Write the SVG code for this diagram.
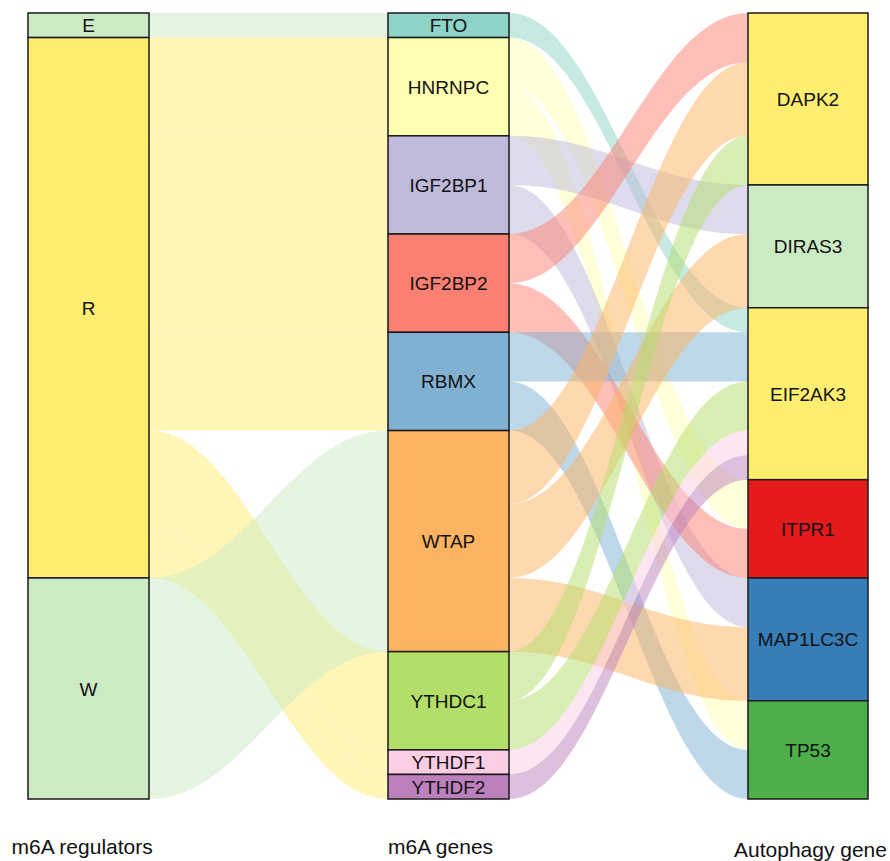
<svg xmlns="http://www.w3.org/2000/svg" width="890" height="861" viewBox="0 0 890 861">
<style>
.node{stroke:#1a1a1a;stroke-width:1.5}
.lbl{font-family:"Liberation Sans",Arial,sans-serif;font-size:19px;fill:#111;text-anchor:middle}
.axis{font-family:"Liberation Sans",Arial,sans-serif;font-size:21px;fill:#111}
.f{fill-opacity:0.5;stroke:none}
</style>
<rect width="890" height="861" fill="#ffffff"/>
<g id="connectors">
<path class="f" fill="#CCEBC5" d="M149,13 C244.6,13 292.4,13 388,13 L388,37.56 C292.4,37.56 244.6,37.56 149,37.56Z"/>
<path class="f" fill="#FFED6F" d="M149,37.56 L388,37.56 L388,135.81 L149,135.81Z"/>
<path class="f" fill="#FFED6F" d="M149,135.81 L388,135.81 L388,234.06 L149,234.06Z"/>
<path class="f" fill="#FFED6F" d="M149,234.06 L388,234.06 L388,332.31 L149,332.31Z"/>
<path class="f" fill="#FFED6F" d="M149,332.31 L388,332.31 L388,430.56 L149,430.56Z"/>
<path class="f" fill="#FFED6F" d="M149,430.56 C244.6,430.56 292.4,651.63 388,651.63 L388,749.88 C292.4,749.88 244.6,528.81 149,528.81Z"/>
<path class="f" fill="#FFED6F" d="M149,528.81 C244.6,528.81 292.4,749.88 388,749.88 L388,774.44 C292.4,774.44 244.6,553.38 149,553.38Z"/>
<path class="f" fill="#FFED6F" d="M149,553.38 C244.6,553.38 292.4,774.44 388,774.44 L388,799 C292.4,799 244.6,577.94 149,577.94Z"/>
<path class="f" fill="#CCEBC5" d="M149,577.94 C244.6,577.94 292.4,430.56 388,430.56 L388,651.63 C292.4,651.63 244.6,799 149,799Z"/>

<path class="f" fill="#8DD3C7" d="M509,13 C604.6,13 652.4,307.75 748,307.75 L748,332.31 C652.4,332.31 604.6,37.56 509,37.56Z"/>
<path class="f" fill="#FFFFB3" d="M509,37.56 C604.6,37.56 652.4,479.69 748,479.69 L748,528.81 C652.4,528.81 604.6,86.69 509,86.69Z"/>
<path class="f" fill="#FFFFB3" d="M509,86.69 C604.6,86.69 652.4,700.75 748,700.75 L748,749.88 C652.4,749.88 604.6,135.81 509,135.81Z"/>
<path class="f" fill="#BEBADA" d="M509,135.81 C604.6,135.81 652.4,184.94 748,184.94 L748,234.06 C652.4,234.06 604.6,184.94 509,184.94Z"/>
<path class="f" fill="#BEBADA" d="M509,184.94 C604.6,184.94 652.4,577.94 748,577.94 L748,627.06 C652.4,627.06 604.6,234.06 509,234.06Z"/>
<path class="f" fill="#FB8072" d="M509,234.06 C604.6,234.06 652.4,13 748,13 L748,62.13 C652.4,62.13 604.6,283.19 509,283.19Z"/>
<path class="f" fill="#FB8072" d="M509,283.19 C604.6,283.19 652.4,528.81 748,528.81 L748,577.94 C652.4,577.94 604.6,332.31 509,332.31Z"/>
<path class="f" fill="#80B1D3" d="M509,332.31 C604.6,332.31 652.4,332.31 748,332.31 L748,381.44 C652.4,381.44 604.6,381.44 509,381.44Z"/>
<path class="f" fill="#80B1D3" d="M509,381.44 C604.6,381.44 652.4,749.88 748,749.88 L748,799 C652.4,799 604.6,430.56 509,430.56Z"/>
<path class="f" fill="#FDB462" d="M509,430.56 C604.6,430.56 652.4,62.13 748,62.13 L748,135.81 C652.4,135.81 604.6,504.25 509,504.25Z"/>
<path class="f" fill="#FDB462" d="M509,504.25 C604.6,504.25 652.4,234.06 748,234.06 L748,307.75 C652.4,307.75 604.6,577.94 509,577.94Z"/>
<path class="f" fill="#FDB462" d="M509,577.94 C604.6,577.94 652.4,627.06 748,627.06 L748,700.75 C652.4,700.75 604.6,651.63 509,651.63Z"/>
<path class="f" fill="#B3DE69" d="M509,651.63 C604.6,651.63 652.4,135.81 748,135.81 L748,184.94 C652.4,184.94 604.6,700.75 509,700.75Z"/>
<path class="f" fill="#B3DE69" d="M509,700.75 C604.6,700.75 652.4,381.44 748,381.44 L748,430.56 C652.4,430.56 604.6,749.88 509,749.88Z"/>
<path class="f" fill="#FCCDE5" d="M509,749.88 C604.6,749.88 652.4,430.56 748,430.56 L748,455.13 C652.4,455.13 604.6,774.44 509,774.44Z"/>
<path class="f" fill="#BC80BD" d="M509,774.44 C604.6,774.44 652.4,455.13 748,455.13 L748,479.69 C652.4,479.69 604.6,799 509,799Z"/>
</g>

<g id="node-E"><rect class="node" x="28" y="13" width="121" height="24.56" fill="#CCEBC5"/><text class="lbl" x="88.5" y="32.3">E</text></g>
<g id="node-R"><rect class="node" x="28" y="37.56" width="121" height="540.38" fill="#FFED6F"/><text class="lbl" x="88.5" y="314.8">R</text></g>
<g id="node-W"><rect class="node" x="28" y="577.94" width="121" height="221.06" fill="#CCEBC5"/><text class="lbl" x="88.5" y="695.5">W</text></g>

<g id="node-FTO"><rect class="node" x="388" y="13" width="121" height="24.56" fill="#8DD3C7"/><text class="lbl" x="448.5" y="32.3">FTO</text></g>
<g id="node-HNRNPC"><rect class="node" x="388" y="37.56" width="121" height="98.25" fill="#FFFFB3"/><text class="lbl" x="448.5" y="93.7">HNRNPC</text></g>
<g id="node-IGF2BP1"><rect class="node" x="388" y="135.81" width="121" height="98.25" fill="#BEBADA"/><text class="lbl" x="448.5" y="191.9">IGF2BP1</text></g>
<g id="node-IGF2BP2"><rect class="node" x="388" y="234.06" width="121" height="98.25" fill="#FB8072"/><text class="lbl" x="448.5" y="290.2">IGF2BP2</text></g>
<g id="node-RBMX"><rect class="node" x="388" y="332.31" width="121" height="98.25" fill="#80B1D3"/><text class="lbl" x="448.5" y="388.4">RBMX</text></g>
<g id="node-WTAP"><rect class="node" x="388" y="430.56" width="121" height="221.07" fill="#FDB462"/><text class="lbl" x="448.5" y="548.1">WTAP</text></g>
<g id="node-YTHDC1"><rect class="node" x="388" y="651.63" width="121" height="98.25" fill="#B3DE69"/><text class="lbl" x="448.5" y="707.8">YTHDC1</text></g>
<g id="node-YTHDF1"><rect class="node" x="388" y="749.88" width="121" height="24.56" fill="#FCCDE5"/><text class="lbl" x="448.5" y="769.2">YTHDF1</text></g>
<g id="node-YTHDF2"><rect class="node" x="388" y="774.44" width="121" height="24.56" fill="#BC80BD"/><text class="lbl" x="448.5" y="793.7">YTHDF2</text></g>

<g id="node-DAPK2"><rect class="node" x="748" y="13" width="120" height="171.94" fill="#FFED6F"/><text class="lbl" x="808" y="106">DAPK2</text></g>
<g id="node-DIRAS3"><rect class="node" x="748" y="184.94" width="120" height="122.81" fill="#CCEBC5"/><text class="lbl" x="808" y="253.3">DIRAS3</text></g>
<g id="node-EIF2AK3"><rect class="node" x="748" y="307.75" width="120" height="171.94" fill="#FFED6F"/><text class="lbl" x="808" y="400.7">EIF2AK3</text></g>
<g id="node-ITPR1"><rect class="node" x="748" y="479.69" width="120" height="98.25" fill="#E41A1C"/><text class="lbl" x="808" y="535.8">ITPR1</text></g>
<g id="node-MAP1LC3C"><rect class="node" x="748" y="577.94" width="120" height="122.81" fill="#377EB8"/><text class="lbl" x="808" y="646.3">MAP1LC3C</text></g>
<g id="node-TP53"><rect class="node" x="748" y="700.75" width="120" height="98.25" fill="#4DAF4A"/><text class="lbl" x="808" y="756.9">TP53</text></g>

<g id="axis-labels">
<text class="axis" x="11.5" y="854">m6A regulators</text>
<text class="axis" x="388" y="854">m6A genes</text>
<text class="axis" x="734" y="857">Autophagy gene</text>
</g>
</svg>
